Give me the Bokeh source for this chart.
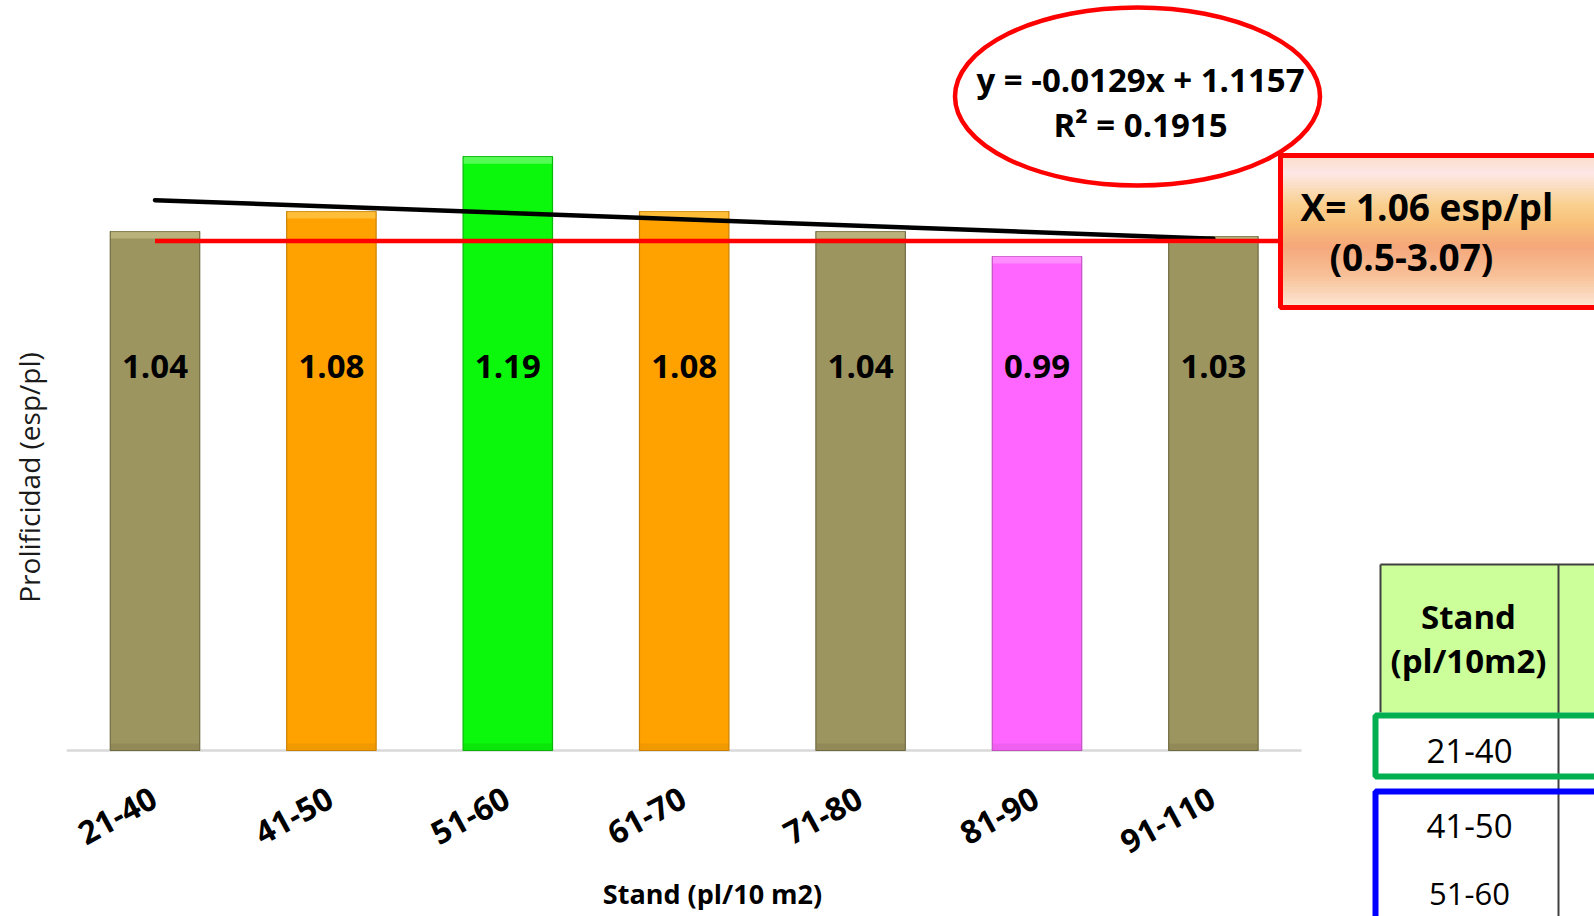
import numpy as np
from bokeh.plotting import figure
from bokeh.models import Range1d, ColumnDataSource
from bokeh.core.properties import value
from bokeh.embed import file_html
from bokeh.resources import INLINE

# ---------------- data ----------------
categories = ["21-40", "41-50", "51-60", "61-70", "71-80", "81-90", "91-110"]
prolificidad = [1.04, 1.08, 1.19, 1.08, 1.04, 0.99, 1.03]
bar_colors = ["#9d9560", "#ffa200", "#0bf70b", "#ffa200", "#9d9560", "#ff66ff", "#9d9560"]
edge_colors = ["#6f6a3f", "#c98000", "#09b509", "#c98000", "#6f6a3f", "#c24fc2", "#6f6a3f"]
top_colors = ["#cdc68e", "#ffd15c", "#86ff86", "#ffd15c", "#cdc68e", "#ffa6ff", "#cdc68e"]
equation_text = "y = -0.0129x + 1.1157"
r2_text = "R\u00b2 = 0.1915"
mean_text = "X= 1.06 esp/pl"
range_text = "(0.5-3.07)"
mean_line_level = 1.021
x_title = "Stand (pl/10 m2)"
y_title = "Prolificidad (esp/pl)"
table_header = ["Stand", "(pl/10m2)"]
table_rows = ["21-40", "41-50", "51-60"]

# ---------------- layout helpers (page pixel -> data) ----------------
W, H = 1594, 916
PX_X1, PX_PER_X = 154.5, 176.4
PX_Y0, PX_PER_Y = 750.0, 499.0


def X(px):
    return 1 + (px - PX_X1) / PX_PER_X


def Y(py):
    return (PX_Y0 - py) / PX_PER_Y


FONT = value("Open Sans")

p = figure(width=W, height=H,
           x_range=Range1d(X(0), X(W)), y_range=Range1d(Y(H), Y(0)),
           output_backend="svg", toolbar_location=None,
           x_axis_location=None, y_axis_location=None,
           min_border=0, outline_line_color=None,
           background_fill_color="white", border_fill_color="white")
p.grid.visible = False

xs = np.arange(1, len(categories) + 1)

# axis baseline
p.segment(x0=[xs[0] - 0.5], y0=[0], x1=[xs[-1] + 0.5], y1=[0],
          line_color="#d9d9d9", line_width=2.5)

# bars
bev = 7 / PX_PER_Y
src = ColumnDataSource(dict(
    x=xs, top=prolificidad, color=bar_colors, edge=edge_colors, hi=top_colors,
    hi_bottom=[v - bev for v in prolificidad],
    label=[f"{v:.2f}" for v in prolificidad],
))
p.vbar(x="x", top="top", bottom=0, width=0.507, fill_color="color",
       line_color="edge", line_width=1.2, source=src)
p.vbar(x="x", top="top", bottom="hi_bottom", width=0.5, fill_color="hi",
       fill_alpha=0.6, line_color=None, source=src)
p.vbar(x="x", top=bev, bottom=0, width=0.5, fill_color="edge",
       fill_alpha=0.25, line_color=None, source=src)

# value labels
p.text(x="x", y=Y(366), text="label", source=src, text_font=FONT,
       text_font_style="bold", text_font_size="33px", text_color="black",
       text_align="center", text_baseline="middle")

# linear trend line from the data
coef = np.polyfit(xs, prolificidad, 1)
tx = np.array([xs[0], xs[-1]], dtype=float)
p.line(x=tx, y=np.polyval(coef, tx), line_color="black", line_width=4.5,
       line_cap="round")

# red mean line
p.line(x=[xs[0], X(1280)], y=[mean_line_level, mean_line_level],
       line_color="#ff0000", line_width=4.5)

# equation ellipse
p.ellipse(x=[X(1137)], y=[Y(96)], width=[365], height=[178],
          width_units="screen", height_units="screen",
          fill_color="white", line_color="#ff0000", line_width=4.5)
p.text(x=[X(1140)] * 2, y=[Y(79), Y(124)], text=[equation_text, r2_text],
       text_font=FONT, text_font_style="bold", text_font_size="33px",
       text_align="center", text_baseline="middle", text_color="black")

# gradient box with the mean
stops_f = [0.0, 0.12, 0.33, 0.45, 0.6, 0.8, 1.0]
stops_c = ["#fbdcc9", "#fde7e6", "#f9d08e", "#f8c07a", "#f5a77a", "#f8c299", "#fde6d6"]


def hex2rgb(h):
    return [int(h[i:i + 2], 16) for i in (1, 3, 5)]


rgb = np.array([hex2rgb(c) for c in stops_c], dtype=float)
n = 60
edges = np.linspace(155, 307, n + 1)
mids = (np.arange(n) + 0.5) / n
cols = []
for f in mids:
    c = [np.interp(f, stops_f, rgb[:, k]) for k in range(3)]
    cols.append("#%02x%02x%02x" % tuple(int(round(v)) for v in c))
p.quad(left=X(1280), right=X(1620), top=[Y(e) for e in edges[:-1]],
       bottom=[Y(e) for e in edges[1:]], fill_color=cols, line_color=cols,
       line_width=1)
p.quad(left=[X(1280)], right=[X(1620)], top=[Y(155)], bottom=[Y(307)],
       fill_color=None, line_color="#ff0000", line_width=5)
p.text(x=[X(1300)], y=[Y(206)], text=[mean_text], text_font=FONT,
       text_font_style="bold", text_font_size="37px", text_align="left",
       text_baseline="middle", text_color="black")
p.text(x=[X(1329)], y=[Y(256)], text=[range_text], text_font=FONT,
       text_font_style="bold", text_font_size="37px", text_align="left",
       text_baseline="middle", text_color="black")

# table (partially visible)
p.quad(left=[X(1380)], right=[X(1620)], top=[Y(564)], bottom=[Y(712)],
       fill_color="#ccff99", line_color=None)
p.segment(x0=[X(1380), X(1380), X(1558)], y0=[Y(564), Y(564), Y(564)],
          x1=[X(1620), X(1380), X(1558)], y1=[Y(564), Y(712), Y(960)],
          line_color="#404040", line_width=2)
p.quad(left=[X(1375)], right=[X(1640)], top=[Y(715)], bottom=[Y(776)],
       fill_color=None, line_color="#00b050", line_width=6)
p.quad(left=[X(1375)], right=[X(1640)], top=[Y(791)], bottom=[Y(1000)],
       fill_color=None, line_color="#0000ff", line_width=6)
p.text(x=[X(1468)] * 2, y=[Y(616), Y(660)], text=table_header, text_font=FONT,
       text_font_style="bold", text_font_size="33px", text_align="center",
       text_baseline="middle", text_color="black")
p.text(x=[X(1469)] * 2, y=[Y(750), Y(825)], text=table_rows[:2],
       text_font=FONT, text_font_size="33px", text_align="center",
       text_baseline="middle", text_color="black")
p.text(x=[X(1469)], y=[Y(893)], text=table_rows[2:],
       text_font=FONT, text_font_size="31px", text_align="center",
       text_baseline="middle", text_color="black")

# category labels (rotated)
p.text(x=xs, y=Y(795), text=categories, text_font=FONT, text_font_style="bold",
       text_font_size="32px", angle=0.5, text_align="right",
       text_baseline="middle", x_offset=-1, text_color="black")

# axis titles
p.text(x=[X(712)], y=[Y(893)], text=[x_title], text_font=FONT,
       text_font_style="bold", text_font_size="27px", text_align="center",
       text_baseline="middle", text_color="black")
p.text(x=[X(28)], y=[Y(477)], text=[y_title], text_font=FONT,
       text_font_size="28px", angle=np.pi / 2, text_align="center",
       text_baseline="middle", text_color="#1a1a1a")

open("out.html", "w").write(file_html(p, INLINE))
